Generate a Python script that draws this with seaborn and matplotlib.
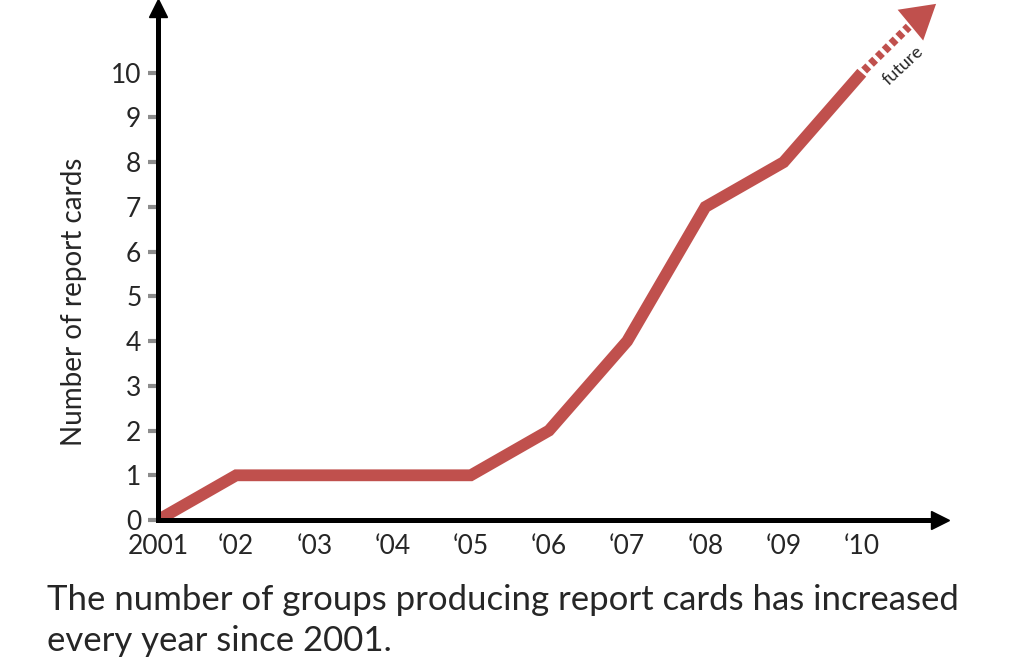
import matplotlib
matplotlib.use("Agg")
import matplotlib.pyplot as plt
import numpy as np
import pandas as pd
import seaborn as sns

years = [2001, 2002, 2003, 2004, 2005, 2006, 2007, 2008, 2009, 2010]
report_cards = [0, 1, 1, 1, 1, 2, 4, 7, 8, 10]
year_labels = ["2001", "\u201802", "\u201803", "\u201804", "\u201805",
               "\u201806", "\u201807", "\u201808", "\u201809", "\u201810"]
y_ticks = list(range(0, 11))

caption_lines = ["The number of groups producing report cards has increased",
                 "every year since 2001."]

LINE_RED = "#C0504D"

sns.set_style("white")
plt.rcParams["font.family"] = ["Lato", "DejaVu Sans"]

data = pd.DataFrame({"year": years, "cards": report_cards})

fig = plt.figure(figsize=(10.14, 6.58), dpi=100)
ax = fig.add_axes([0.1558, 0.2097, 0.927 - 0.1558, 0.988 - 0.2097])

sns.lineplot(data=data, x="year", y="cards", color=LINE_RED, linewidth=8.5,
             ax=ax, solid_capstyle="butt", solid_joinstyle="miter")

# dashed "future" extension and arrow head
x_end, y_end = years[-1], report_cards[-1]
ax.plot([x_end + 0.03, x_end + 0.6], [y_end + 0.05, y_end + 1.03], color=LINE_RED,
        linewidth=6, linestyle=(0, (0.7, 0.45)), clip_on=False,
        solid_capstyle="butt", dash_capstyle="butt")
ax.annotate("", xy=(x_end + 0.95, y_end + 1.54), xytext=(x_end + 0.55, y_end + 0.96),
            arrowprops=dict(arrowstyle="-|>,head_length=0.8,head_width=0.48",
                            mutation_scale=30, color=LINE_RED, lw=0,
                            shrinkA=0, shrinkB=0),
            annotation_clip=False)
ax.text(x_end + 0.53, y_end + 0.17, "future", rotation=43, fontsize=13,
        ha="center", va="center", rotation_mode="anchor")

ax.set_xlim(2001, 2011.0)
ax.set_ylim(0, 11.45)
ax.set_xticks(years)
ax.set_xticklabels(year_labels, fontsize=19)
ax.set_yticks(y_ticks)
ax.set_yticklabels([str(v) for v in y_ticks], fontsize=19)
ax.tick_params(axis="y", length=7, width=3, color="#8c8c8c", left=True, pad=5)
ax.tick_params(axis="x", length=0, pad=10)
ax.set_xlabel("")
ax.set_ylabel("Number of report cards", fontsize=20)
ax.yaxis.set_label_coords(-0.091, 0.426)

for side in ["top", "right"]:
    ax.spines[side].set_visible(False)
for side in ["left", "bottom"]:
    ax.spines[side].set_linewidth(3.6)
    ax.spines[side].set_color("black")

# axis arrow heads
ax.plot(1, 0, marker=">", color="black", markersize=13, transform=ax.transAxes,
        clip_on=False)
ax.plot(0, 1, marker="^", color="black", markersize=13, transform=ax.transAxes,
        clip_on=False)

for i, line in enumerate(caption_lines):
    fig.text(47 / 1014, 1 - (610 + 41 * i) / 658, line, fontsize=25,
             ha="left", va="baseline")

fig.savefig("out.png", dpi=100)
